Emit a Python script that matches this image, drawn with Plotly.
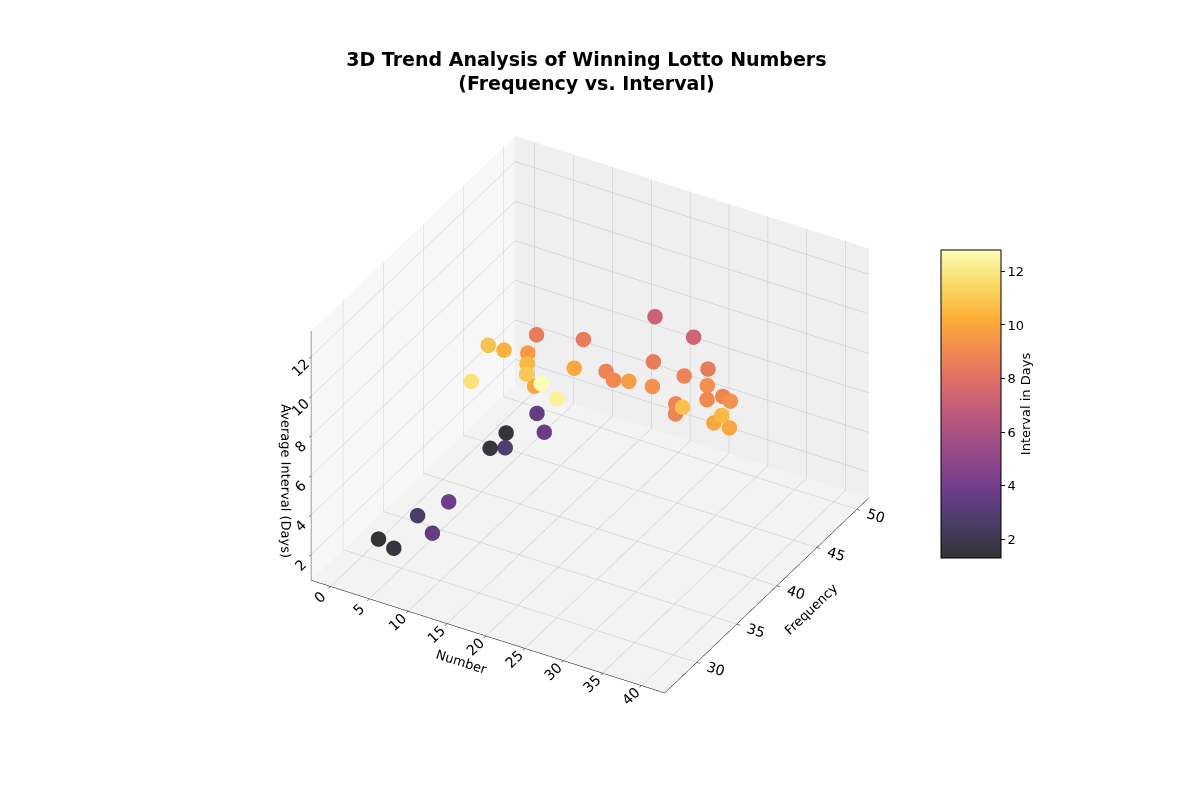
import plotly.graph_objects as go
import plotly.colors as pc

# Lotto data
numbers = [11, 12, 10, 13, 16, 18, 15, 18, 24, 26, 15, 20, 21, 23, 26, 17, 23, 24, 28, 29, 30,
           33, 31, 32, 36, 34, 35, 37, 40, 39, 41, 8, 11, 3, 3, 7, 9, 5, 10, 1, 4]
frequency = [35, 36, 42, 38, 35, 33, 29, 34, 29, 29, 43, 37, 40, 39, 38, 50, 49, 43, 39, 42, 44,
             41, 39, 38, 35, 40, 41, 40, 36, 36, 36, 44, 42, 45, 43, 41, 32, 32, 29, 31, 30]
interval = [10.8, 10.3, 8.5, 9.5, 10.5, 11.0, 11.8, 10.0, 12.8, 12.3, 8.5, 10.0, 8.8, 9.0, 9.7,
            7.2, 7.3, 8.5, 9.3, 8.8, 8.5, 9.2, 8.8, 8.8, 10.8, 9.0, 8.9, 9.3, 10.5, 10.0, 10.0,
            3.5, 3.7, 1.5, 1.5, 2.8, 3.8, 2.6, 3.5, 1.3, 1.6]

x_ticks = [0, 5, 10, 15, 20, 25, 30, 35, 40]
y_ticks = [30, 35, 40, 45, 50]
z_ticks = [2, 4, 6, 8, 10, 12]


def blend_white(col, alpha=0.8):
    # inferno at alpha 0.8 over white, like the matplotlib markers
    r, g, b = pc.hex_to_rgb(col) if col.startswith("#") else pc.unlabel_rgb(col)
    r, g, b = [int(round(c * alpha + 255 * (1 - alpha))) for c in (r, g, b)]
    return f"rgb({r},{g},{b})"


inferno = pc.sequential.Inferno
n = len(inferno)
cscale = [[i / (n - 1), blend_white(c)] for i, c in enumerate(inferno)]

FONT = "DejaVu Sans"

fig = go.Figure()
fig.add_trace(go.Scatter3d(
    x=numbers, y=frequency, z=interval,
    mode="markers",
    marker=dict(
        size=9,
        color=interval,
        colorscale=cscale,
        line=dict(width=0),
        colorbar=dict(
            title=dict(text="Interval in Days", side="right", font=dict(size=13, color="black")),
            thickness=60, len=0.41, lenmode="fraction",
            x=0.769, xanchor="left", y=0.505, yanchor="middle",
            outlinecolor="black", outlinewidth=1,
            ticks="outside", ticklen=4, tickcolor="black",
            tickvals=z_ticks, tickfont=dict(size=13, color="black"),
        ),
    ),
    showlegend=False,
))


def axis(title, ticks, rng, bg):
    return dict(
        title=dict(text=title, font=dict(size=13, color="black")),
        range=rng, tickvals=ticks,
        tickfont=dict(size=13, color="black"),
        backgroundcolor=bg, showbackground=True,
        gridcolor="#c4c4c4", gridwidth=1,
        showline=True, linecolor="black", linewidth=1,
        ticks="outside", tickcolor="black", ticklen=4,
        zeroline=False, showspikes=False,
    )


fig.update_layout(
    width=1200, height=800,
    paper_bgcolor="white",
    font=dict(family=FONT, color="black"),
    margin=dict(l=0, r=0, t=0, b=0),
    title=dict(
        text="<b>3D Trend Analysis of Winning Lotto Numbers<br>(Frequency vs. Interval)</b>",
        x=0.482, xanchor="center", y=0.928, yanchor="top", yref="container",
        font=dict(size=19, family=FONT),
    ),
    scene=dict(
        domain=dict(x=[0.165, 0.805], y=[0.07, 0.9]),
        xaxis=axis("Number", x_ticks, [-2.5, 43], "#f7f7f7"),
        yaxis=axis("Frequency", y_ticks, [26, 51.5], "#efefef"),
        zaxis=axis("Average Interval (Days)", z_ticks, [0.7, 13.3], "#f3f3f3"),
        aspectmode="manual",
        aspectratio=dict(x=1.23, y=1.23, z=0.9),
        camera=dict(
            eye=dict(x=0.82, y=-1.42, z=1.065),
            center=dict(x=0, y=0, z=-0.02),
            projection=dict(type="orthographic"),
        ),
    ),
)

fig.write_html("out.html")
